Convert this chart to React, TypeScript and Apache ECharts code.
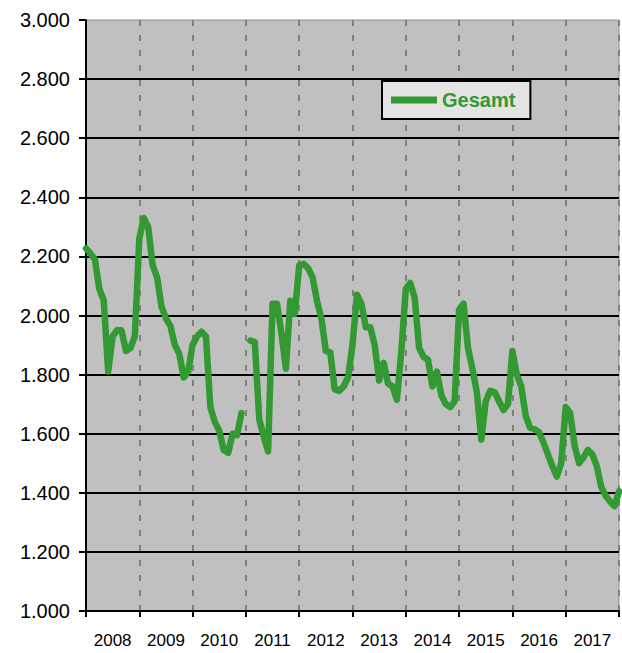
import React, { useEffect, useRef } from "react";
import * as echarts from "echarts";

// Monthly observations from Jan 2008 (index 0) to Jan 2018; null = missing
const values: (number | null)[] = [
  2227, 2210, 2190, 2090, 2050, 1810, 1930, 1950, 1950, 1880, 1890, 1930,
  2260, 2330, 2300, 2170, 2130, 2030, 1990, 1965, 1900, 1870, 1790, 1810,
  1900, 1930, 1945, 1930, 1690, 1640, 1610, 1545, 1535, 1600, 1595, 1670,
  null, 1915, 1910, 1650, 1590, 1540, 2040, 2040, 1940, 1820, 2050, 2005,
  2170, 2175, 2160, 2130, 2050, 1990, 1880, 1875, 1750, 1745, 1760, 1790,
  1900, 2070, 2040, 1960, 1960, 1900, 1780, 1840, 1770, 1760, 1715, 1880,
  2090, 2110, 2060, 1890, 1860, 1850, 1760, 1810, 1730, 1700, 1690, 1710,
  2020, 2040, 1890, 1820, 1740, 1580, 1710, 1745, 1740, 1710, 1680, 1700,
  1880, 1800, 1760, 1660, 1620, 1615, 1605, 1570, 1530, 1490, 1455, 1500,
  1690, 1670, 1560, 1500, 1520, 1545, 1530, 1490, 1420, 1390, 1370, 1355,
  1405,
];

const years: string[] = [
  "2008", "2009", "2010", "2011", "2012", "2013", "2014", "2015", "2016", "2017",
];

const seriesName = "Gesamt";

export default function App() {
  const ref = useRef<HTMLDivElement>(null);

  useEffect(() => {
    if (!ref.current) return;
    const chart = echarts.init(ref.current, null, { renderer: "svg" });
    const font = "'Liberation Sans', Arial, sans-serif";
    const monthsTotal = years.length * 12;
    chart.setOption({
      animation: false,
      backgroundColor: "#ffffff",
      grid: {
        left: 86,
        top: 20,
        right: 3,
        bottom: 42,
        show: true,
        backgroundColor: "#c0c0c0",
        borderColor: "#8c8c8c",
        borderWidth: 1,
      },
      legend: {
        show: true,
        left: 382,
        top: 81,
        orient: "horizontal",
        data: [{ name: seriesName, icon: "rect" }],
        itemWidth: 46,
        itemHeight: 7,
        padding: [9, 15, 9, 9],
        backgroundColor: "#e3e3e3",
        borderColor: "#000000",
        borderWidth: 2,
        borderRadius: 0,
        textStyle: {
          color: "#339933",
          fontWeight: "bold",
          fontSize: 20,
          fontFamily: font,
        },
      },
      xAxis: {
        type: "value",
        min: 0,
        max: monthsTotal,
        interval: 12,
        axisLine: { show: true, lineStyle: { color: "#000", width: 2 } },
        axisTick: {
          show: true,
          inside: false,
          length: 6,
          lineStyle: { color: "#000", width: 2 },
        },
        axisLabel: {
          show: true,
          customValues: years.map((_, i) => i * 12 + 6),
          formatter: (v: number) => years[Math.floor(v / 12)] ?? "",
          color: "#000",
          fontSize: 17,
          fontFamily: font,
          margin: 21,
        },
        splitLine: {
          show: true,
          lineStyle: { color: "#808080", width: 2, type: [6, 9] },
        },
      },
      yAxis: {
        type: "value",
        min: 1000,
        max: 3000,
        interval: 200,
        axisLine: { show: true, lineStyle: { color: "#000", width: 2 } },
        axisTick: {
          show: true,
          inside: false,
          length: 7,
          lineStyle: { color: "#000", width: 2 },
        },
        axisLabel: {
          formatter: (v: number) => (v / 1000).toFixed(3),
          color: "#000",
          fontSize: 20,
          fontFamily: font,
          margin: 16,
        },
        splitLine: {
          show: true,
          showMaxLine: false,
          lineStyle: { color: "#000", width: 2, type: "solid" },
        },
      },
      series: [
        {
          name: seriesName,
          type: "line",
          data: values.map((v, i) => [i, v]),
          showSymbol: false,
          symbol: "none",
          connectNulls: false,
          lineStyle: { color: "#339933", width: 6.5, cap: "round", join: "round" },
          itemStyle: { color: "#339933" },
          z: 5,
        },
      ],
    });
    return () => chart.dispose();
  }, []);

  return (
    <div
      ref={ref}
      style={{ position: "absolute", left: 0, top: 0, width: 622, height: 653 }}
    />
  );
}
